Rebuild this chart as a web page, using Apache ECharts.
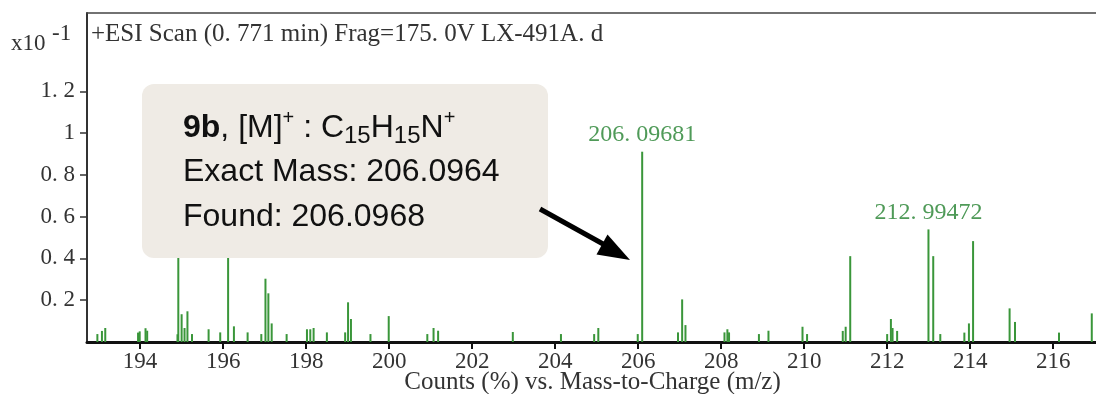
<!DOCTYPE html>
<html>
<head>
<meta charset="utf-8">
<script src="https://cdn.jsdelivr.net/npm/echarts@6/dist/echarts.min.js"></script>
<style>
  html, body { margin: 0; padding: 0; background: #fff; }
  #chart { width: 1096px; height: 394px; }
</style>
</head>
<body>
<div id="chart"></div>
<script>
// ---- data ----
const peakMz = [
  192.97, 193.08, 193.16, 193.95, 193.99, 194.13, 194.17, 194.90, 194.92, 195.00,
  195.07, 195.14, 195.25, 195.65, 195.93, 196.12, 196.26, 196.59, 196.92, 197.02,
  197.09, 197.17, 197.53, 198.02, 198.10, 198.18, 198.50, 198.94, 199.01, 199.08,
  199.55, 199.99, 200.92, 201.07, 201.18, 202.98, 204.14, 204.94, 205.04, 205.99,
  206.097, 206.96, 207.06, 207.14, 208.08, 208.15, 208.19, 208.91, 209.14, 209.96,
  210.07, 210.93, 211.00, 211.11, 212.00, 212.09, 212.13, 212.24, 212.995, 213.11,
  213.28, 213.86, 213.97, 214.07, 214.95, 215.08, 216.14, 216.93
];
const peakCounts = [
  0.038, 0.053, 0.067, 0.045, 0.051, 0.066, 0.054, 0.037, 0.68, 0.133,
  0.067, 0.147, 0.038, 0.061, 0.046, 0.56, 0.075, 0.046, 0.038, 0.303,
  0.233, 0.089, 0.038, 0.061, 0.061, 0.067, 0.046, 0.046, 0.190, 0.110,
  0.038, 0.124, 0.038, 0.067, 0.054, 0.048, 0.038, 0.038, 0.067, 0.038,
  0.911, 0.046, 0.204, 0.081, 0.046, 0.061, 0.046, 0.038, 0.054, 0.073,
  0.038, 0.053, 0.073, 0.411, 0.038, 0.110, 0.067, 0.053, 0.539, 0.411,
  0.038, 0.045, 0.089, 0.483, 0.161, 0.096, 0.045, 0.137
];
const labeledPeaks = { 40: '206. 09681', 58: '212. 99472' };
const xTickValues = [194, 196, 198, 200, 202, 204, 206, 208, 210, 212, 214, 216];
const yTickValues = [0.2, 0.4, 0.6, 0.8, 1.0, 1.2];
const yTickLabels = ['0. 2', '0. 4', '0. 6', '0. 8', '1', '1. 2'];
const titleText = '+ESI Scan (0. 771 min) Frag=175. 0V LX-491A. d';
const xAxisTitle = 'Counts (%) vs. Mass-to-Charge (m/z)';

// ---- chart ----
const SERIF = '"Liberation Serif", "Times New Roman", serif';
const SANS = '"Liberation Sans", Arial, sans-serif';
const chart = echarts.init(document.getElementById('chart'), null, { renderer: 'canvas' });

const seriesData = peakMz.map((m, i) => {
  const item = { value: [m, peakCounts[i]] };
  if (labeledPeaks[i]) {
    item.label = { show: true, formatter: labeledPeaks[i] };
  }
  return item;
});

const option = {
  animation: false,
  backgroundColor: '#ffffff',
  grid: { left: 87, top: 13, right: -2, bottom: 52, containLabel: false, outerBoundsMode: 'none' },
  xAxis: [{
    type: 'value',
    position: 'bottom',
    min: 192.72,
    max: 217.08,
    axisLine: { show: true, onZero: false, lineStyle: { color: '#111', width: 3 } },
    axisTick: { show: true, customValues: xTickValues, length: 7, lineStyle: { color: '#111', width: 2 } },
    axisLabel: { customValues: xTickValues, fontFamily: SERIF, fontSize: 23, color: '#333', margin: 8 },
    splitLine: { show: false },
    name: xAxisTitle,
    nameLocation: 'middle',
    nameGap: 28,
    nameMoveOverlap: false,
    nameTextStyle: { fontFamily: SERIF, fontSize: 25, color: '#333' }
  }, {
    type: 'value',
    position: 'top',
    min: 192.72,
    max: 217.08,
    axisLine: { show: true, onZero: false, lineStyle: { color: '#444', width: 1.5 } },
    axisTick: { show: false },
    axisLabel: { show: false },
    splitLine: { show: false }
  }],
  yAxis: {
    type: 'value',
    min: 0,
    max: 1.575,
    axisLine: { show: true, onZero: false, lineStyle: { color: '#333', width: 2 } },
    axisTick: { show: true, customValues: yTickValues, length: 7, lineStyle: { color: '#333', width: 1.5 } },
    axisLabel: {
      customValues: yTickValues,
      fontFamily: SERIF, fontSize: 23, color: '#333', margin: 12,
      formatter: function (v) {
        for (let i = 0; i < yTickValues.length; i++) {
          if (Math.abs(yTickValues[i] - v) < 1e-6) return yTickLabels[i];
        }
        return '';
      }
    },
    splitLine: { show: false }
  },
  series: [{
    type: 'bar',
    xAxisIndex: 0,
    barWidth: 2,
    itemStyle: { color: '#3a963a' },
    label: {
      show: false,
      position: 'top',
      distance: 5,
      fontFamily: SERIF,
      fontSize: 24,
      color: '#4f9a58'
    },
    data: seriesData
  }],
  graphic: [
    {
      type: 'text', z: 100,
      style: { x: 91, y: 34.5, text: titleText, font: '25px ' + SERIF, fill: '#333', textAlign: 'left', textVerticalAlign: 'middle' }
    },
    {
      type: 'text', z: 100,
      style: { x: 11, y: 44, text: 'x10', font: '23px ' + SERIF, fill: '#333', textAlign: 'left', textVerticalAlign: 'middle' }
    },
    {
      type: 'text', z: 100,
      style: { x: 52, y: 34, text: '-1', font: '23px ' + SERIF, fill: '#333', textAlign: 'left', textVerticalAlign: 'middle' }
    },
    {
      type: 'rect', z: 100,
      shape: { x: 142, y: 84, width: 406, height: 174, r: 12 },
      style: { fill: '#efebe5' }
    },
    {
      type: 'text', z: 101,
      style: {
        x: 183, y: 128,
        text: '{b|9b}{n|, [M]}{sup|+}{n| : C}{sub|15}{n|H}{sub|15}{n|N}{sup|+}',
        textAlign: 'left', textVerticalAlign: 'middle',
        fill: '#111',
        rich: {
          b: { fontFamily: SANS, fontSize: 32, fontWeight: 'bold', lineHeight: 40, fill: '#111' },
          n: { fontFamily: SANS, fontSize: 32, lineHeight: 40, fill: '#111' },
          sup: { fontFamily: SANS, fontSize: 20, lineHeight: 18, verticalAlign: 'top', fill: '#111' },
          sub: { fontFamily: SANS, fontSize: 24, lineHeight: 25, verticalAlign: 'bottom', fill: '#111' }
        }
      }
    },
    {
      type: 'text', z: 101,
      style: { x: 183, y: 172.5, text: 'Exact Mass: 206.0964', font: '32px ' + SANS, fill: '#111', textAlign: 'left', textVerticalAlign: 'middle' }
    },
    {
      type: 'text', z: 101,
      style: { x: 183, y: 217.5, text: 'Found: 206.0968', font: '32px ' + SANS, fill: '#111', textAlign: 'left', textVerticalAlign: 'middle' }
    },
    {
      type: 'line', z: 101,
      shape: { x1: 540, y1: 209, x2: 604, y2: 244.5 },
      style: { stroke: '#000', lineWidth: 5 }
    },
    {
      type: 'polygon', z: 101,
      shape: { points: [[630, 260], [596.5, 254.5], [607.5, 234.5]] },
      style: { fill: '#000' }
    }
  ]
};
chart.setOption(option);
</script>
</body>
</html>
